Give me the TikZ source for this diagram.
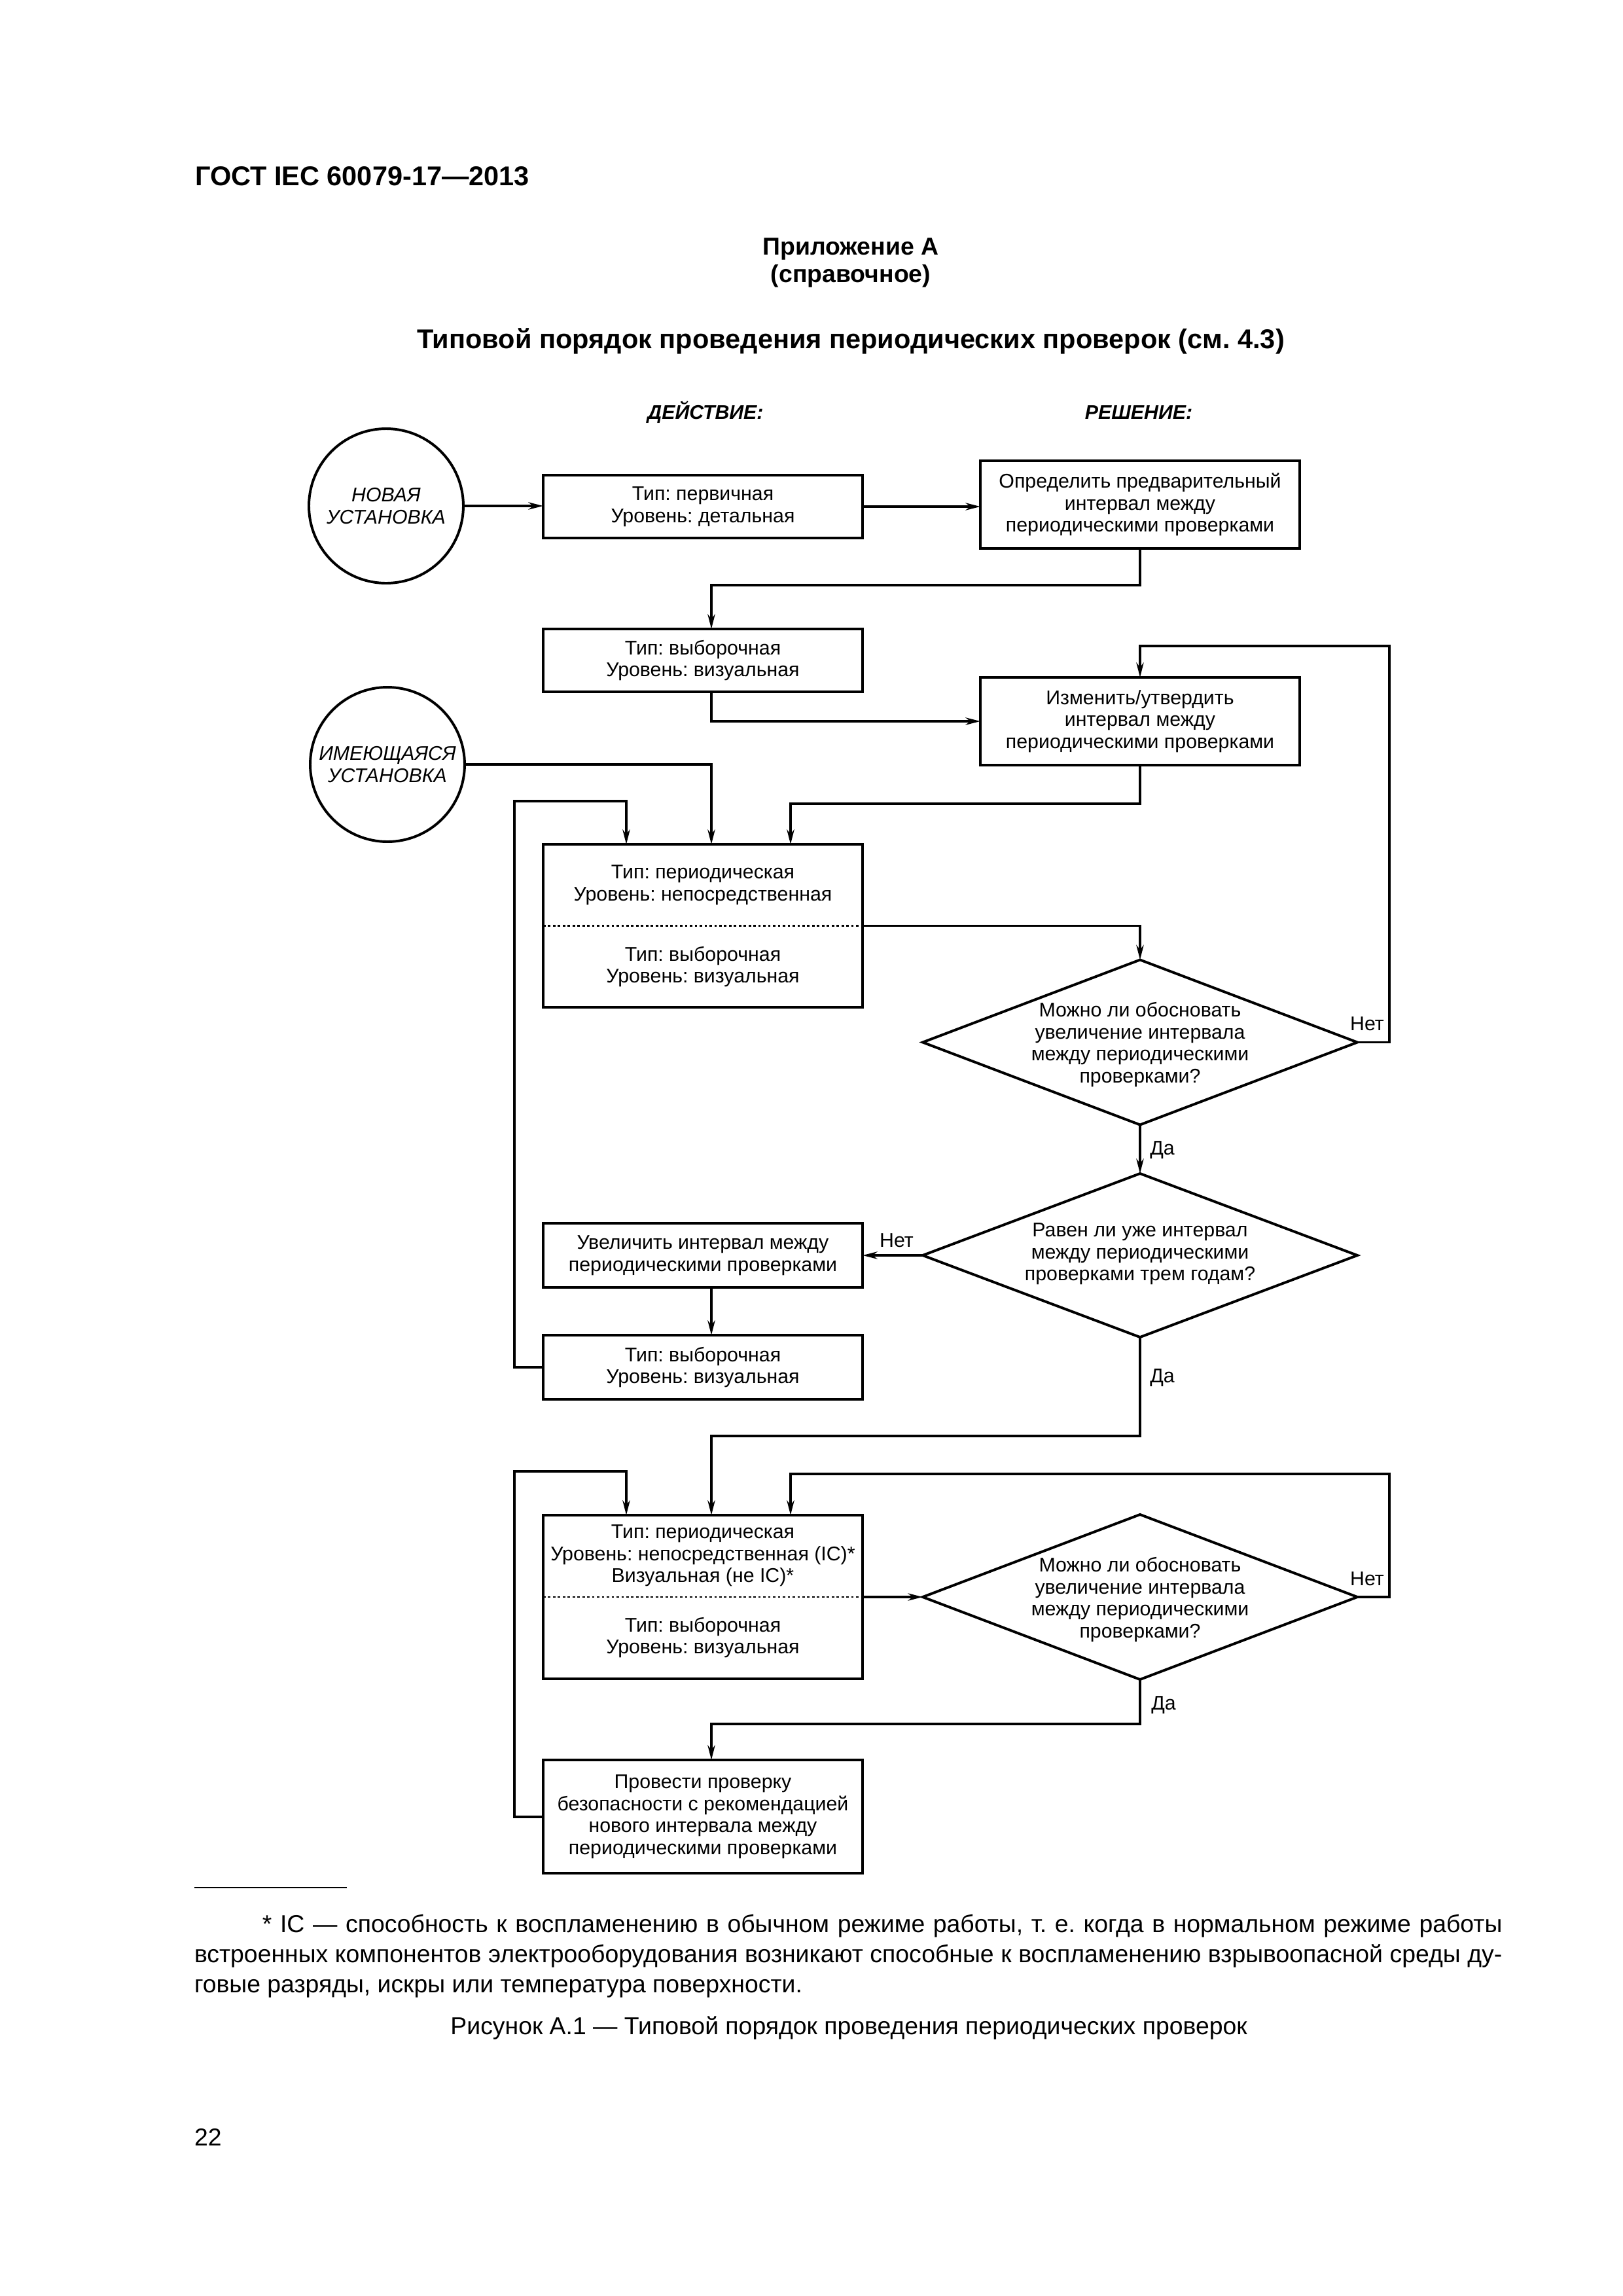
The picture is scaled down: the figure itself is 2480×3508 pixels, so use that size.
\documentclass[tikz,border=0pt]{standalone}
\usepackage{fontspec}
\setmainfont{Liberation Sans}
\usetikzlibrary{shapes.geometric,arrows.meta,calc}
\def\u{0.0846774mm}
\frenchspacing
\begin{document}
\begin{tikzpicture}[x=0.0846774mm,y=-0.0846774mm,
  every node/.style={inner sep=0pt,outer sep=0pt},
  ln/.style={line width=0.95pt},
  arr/.style={ln,-{Stealth[length=1.9mm,width=0.95mm,inset=0.6mm]}},
  bxf/.style={font=\fontsize{7.3}{8.1}\selectfont},
  txt/.style={bxf,align=center},
  box/.style={draw,ln,rectangle,minimum width=41.32mm,align=center,bxf},
  dia/.style={draw,ln,diamond,minimum width=56.23mm,minimum height=21.34mm},
  circ/.style={draw,ln,circle,minimum size=19.98mm,align=center,font=\itshape\fontsize{7.3}{8.1}\selectfont},
  dotline/.style={line width=0.7pt,dash pattern=on 0.9pt off 0.9pt},
  lbl/.style={bxf},
  colhead/.style={font=\bfseries\itshape\fontsize{7.3}{8.1}\selectfont},
  foot/.style={font=\fontsize{9}{11.1}\selectfont}
]
\useasboundingbox (0,0) rectangle (2480,3508);

% page texts
\node[anchor=base west,font=\bfseries\fontsize{10}{12}\selectfont] (hdr) at (298,283) {ГОСТ IEC 60079-17—2013};
\node[anchor=base,font=\bfseries\fontsize{9}{11}\selectfont] (app) at (1300,389) {Приложение А};
\node[anchor=base,font=\bfseries\fontsize{9}{11}\selectfont] (spr) at (1300,431) {(справочное)};
\node[anchor=base,font=\bfseries\fontsize{10}{12}\selectfont] (ttl) at (1300,532) {Типовой порядок проведения периодических проверок (см. 4.3)};
\node[anchor=base,colhead] (hact) at (1078,640) {ДЕЙСТВИЕ:};
\node[anchor=base,colhead] (hdec) at (1740,640) {РЕШЕНИЕ:};

% circles
\node[circ] (C1) at (590,773) {НОВАЯ\\УСТАНОВКА};
\node[circ] (C2) at (592,1168) {ИМЕЮЩАЯСЯ\\УСТАНОВКА};

% boxes
\node[box,minimum height=8.13mm] (B1) at (1074,774) {Тип: первичная\\Уровень: детальная};
\node[box,minimum height=11.35mm] (B2) at (1742,771) {Определить предварительный\\интервал между\\периодическими проверками};
\node[box,minimum height=8.13mm] (B3) at (1074,1009) {Тип: выборочная\\Уровень: визуальная};
\node[box,minimum height=11.35mm] (B4) at (1742,1102) {Изменить/утвердить\\интервал между\\периодическими проверками};

\node[box,minimum height=21.08mm] (B5) at (1074,1414.5) {};
\node[txt] (B5a) at (1074,1352) {Тип: периодическая\\Уровень: непосредственная};
\node[txt] (B5b) at (1074,1477) {Тип: выборочная\\Уровень: визуальная};
\draw[dotline] (B5.west) -- (B5.east);

\node[dia] (D1) at (1742,1592.5) {};
\node[txt] (D1t) at (1742,1596) {Можно ли обосновать\\увеличение интервала\\между периодическими\\проверками?};

\node[dia,minimum height=21.17mm] (D2) at (1742,1918) {};
\node[txt] (D2t) at (1742,1916) {Равен ли уже интервал\\между периодическими\\проверками трем годам?};

\node[box,minimum height=8.3mm] (B6) at (1074,1918) {Увеличить интервал между\\периодическими проверками};
\node[box,minimum height=8.3mm] (B7) at (1074,2089) {Тип: выборочная\\Уровень: визуальная};

\node[box,minimum height=21.17mm] (B8) at (1074,2440) {};
\node[txt] (B8a) at (1074,2377) {Тип: периодическая\\Уровень: непосредственная (IC)*\\Визуальная (не IC)*};
\node[txt] (B8b) at (1074,2502) {Тип: выборочная\\Уровень: визуальная};
\draw[dotline] (B8.west) -- (B8.east);

\node[dia] (D3) at (1742,2440) {};
\node[txt] (D3t) at (1742,2444) {Можно ли обосновать\\увеличение интервала\\между периодическими\\проверками?};

\node[box,minimum height=14.65mm] (B9) at (1074,2775.5) {Провести проверку\\безопасности с рекомендацией\\нового интервала между\\периодическими проверками};

% labels
\node[lbl] (n1) at (2089,1564) {Нет};
\node[lbl] (y1) at (1776,1757) {Да};
\node[lbl] (n2) at (1370,1895) {Нет};
\node[lbl] (y2) at (1776,2105) {Да};
\node[lbl] (n3) at (2089,2412) {Нет};
\node[lbl] (y3) at (1778,2605) {Да};

% junction coordinates
\coordinate (j2) at (1742,894);
\coordinate (r1) at (2123,987);
\coordinate (j4) at (1742,1228);
\coordinate (l1) at (786,1224);
\coordinate (j5) at (1742,2194);
\coordinate (l2) at (786,2248);
\coordinate (r2) at (2123,2252);
\coordinate (j6) at (1742,2634);

% connectors
\draw[arr] (C1.east) -- (C1.east -| B1.west);
\draw[arr] (B1.east) -- (B1.east -| B2.west);
\draw[arr] (B2.south) -- (j2) -| ([xshift=13*\u]B3.north);
\draw[arr] ([xshift=13*\u]B3.south) |- (B4.west);
\draw[arr] (D1.east) -| (r1) -| (B4.north);
\draw[arr] (C2.east) -| ([xshift=13*\u]B5.north);
\draw[arr] (B4.south) -- (j4) -| ([xshift=134*\u]B5.north);
\draw[arr] (B7.west) -| (l1) -| ([xshift=-117*\u]B5.north);
\draw[arr] (B5.east) -| (D1.north);
\draw[arr] (D1.south) -- (D2.north);
\draw[arr] (D2.west) -- (B6.east);
\draw[arr] ([xshift=13*\u]B6.south) -- ([xshift=13*\u]B7.north);
\draw[arr] (D2.south) -- (j5) -| ([xshift=13*\u]B8.north);
\draw[arr] (B9.west) -| (l2) -| ([xshift=-117*\u]B8.north);
\draw[arr] (D3.east) -| (r2) -| ([xshift=134*\u]B8.north);
\draw[arr] (B8.east) -- (D3.west);
\draw[arr] (D3.south) -- (j6) -| ([xshift=13*\u]B9.north);

% footnote
\coordinate (fr1) at (297,2884);
\coordinate (fr2) at (530,2884);
\draw[line width=0.5pt] (fr1) -- (fr2);
\node[foot,anchor=base west,text width=169.2mm,align=justify] (fn) at (297,2952)
{\hspace*{8.8mm}* IC — способность к воспламенению в обычном режиме работы, т.~е. когда в нормальном режиме работы\linebreak встроенных компонентов электрооборудования возникают способные к воспламенению взрывоопасной среды ду-\linebreak говые разряды, искры или температура поверхности.};
\node[foot,anchor=base] (cap) at (1297,3108) {Рисунок А.1 — Типовой порядок проведения периодических проверок};
\node[foot,anchor=base west] (pg) at (297,3278) {22};
\end{tikzpicture}
\end{document}
